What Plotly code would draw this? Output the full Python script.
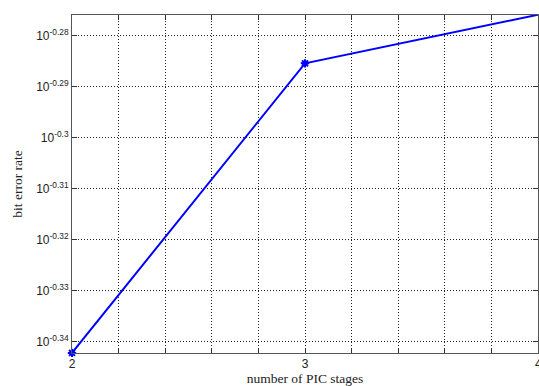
import numpy as np
import plotly.graph_objects as go

stages = [2, 3, 4]
ber = [0.4548, 0.5183, 0.5298]

x_ticks = [2, 2.2, 2.4, 2.6, 2.8, 3, 3.2, 3.4, 3.6, 3.8, 4]
x_ticklabels = ["2", "", "", "", "", "3", "", "", "", "", ""]
x_last_label = "4"
y_exponents = [-0.34, -0.33, -0.32, -0.31, -0.3, -0.29, -0.28]
y_ticklabels = ["10<sup>-0.34</sup>", "10<sup>-0.33</sup>", "10<sup>-0.32</sup>",
                "10<sup>-0.31</sup>", "10<sup>-0.3</sup>", "10<sup>-0.29</sup>",
                "10<sup>-0.28</sup>"]

fig = go.Figure()
fig.add_trace(go.Scatter(
    x=stages, y=ber, mode="lines+markers",
    line=dict(color="#0000ff", width=2),
    marker=dict(symbol="asterisk-open", size=7, color="#0000ff",
                line=dict(color="#0000ff", width=2)),
    cliponaxis=False,
))

fig.add_annotation(
    x=stages[-1], xref="x", y=0, yref="paper", yanchor="top",
    text=x_last_label, showarrow=False, yshift=-2,
    font=dict(family="Liberation Sans, Arial", size=12, color="#222"),
)

fig.update_layout(
    width=539, height=386,
    margin=dict(l=72, r=1, t=15, b=33),
    paper_bgcolor="white", plot_bgcolor="white",
    showlegend=False,
    font=dict(family="Liberation Sans, Arial", size=11, color="#222"),
)
fig.update_xaxes(
    range=[2, 4], tickvals=x_ticks, ticktext=x_ticklabels,
    ticks="inside", ticklen=5, tickcolor="#333",
    showline=True, linecolor="#555", linewidth=1, mirror="ticks",
    showgrid=True, gridcolor="#222", griddash="1px,2px", gridwidth=1,
    zeroline=False,
    title=dict(text="number of PIC stages",
               font=dict(family="Liberation Serif, Times New Roman", size=13.5, color="#222"),
               standoff=2),
    tickfont=dict(size=12),
)
fig.update_yaxes(
    type="log", range=[-0.3422, -0.27594],
    tickvals=[10 ** e for e in y_exponents], ticktext=y_ticklabels,
    ticks="inside", ticklen=5, tickcolor="#333",
    showline=True, linecolor="#555", linewidth=1, mirror="ticks",
    showgrid=True, gridcolor="#222", griddash="1px,2px", gridwidth=1,
    zeroline=False,
    title=dict(text="bit error rate",
               font=dict(family="Liberation Serif, Times New Roman", size=13.5, color="#222"),
               standoff=10),
    tickfont=dict(size=12),
)

fig.write_html("out.html", config={"displayModeBar": False},
               post_script="document.body.style.margin='0';document.body.style.overflow='hidden';")
